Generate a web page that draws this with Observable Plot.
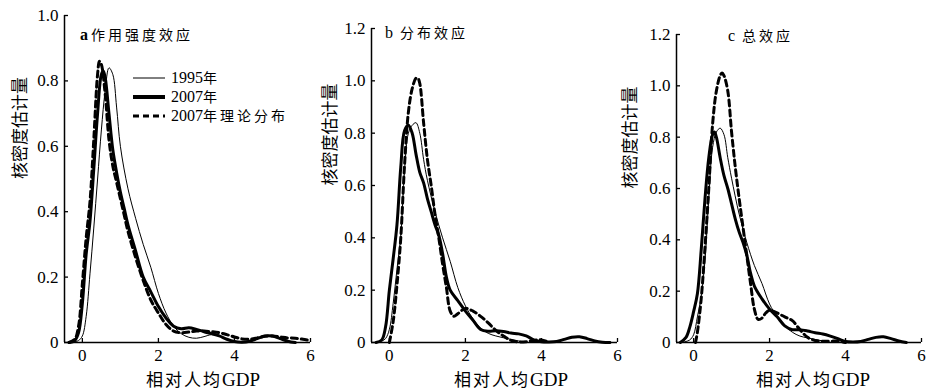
<!DOCTYPE html>
<html><head><meta charset="utf-8">
<script src="https://cdn.jsdelivr.net/npm/d3@7"></script>
<script src="https://cdn.jsdelivr.net/npm/@observablehq/plot@0.6"></script>
<style>
body{margin:0;background:#fff;-webkit-font-smoothing:antialiased;}
#wrap{position:relative;width:930px;height:390px;overflow:hidden;font-family:"Liberation Serif","Noto Sans CJK SC",serif;color:#000;}
.panel{position:absolute;top:0;}
.t{position:absolute;white-space:nowrap;line-height:1;}
.cjk{font-family:"Noto Sans CJK SC",sans-serif;}
</style></head><body><div id="wrap"></div><script>
// ---------- data ----------
const seriesNames = ["1995年", "2007年", "2007年理论分布"];
const panelTitles = [["a", "作用强度效应"], ["b", "分布效应"], ["c", "总效应"]];
const xLabelCJK = "相对人均";
const xLabelLatin = "GDP";
const yLabel = "核密度估计量";
const xTicks = [0, 2, 4, 6];
const yTicksA = [0, 0.2, 0.4, 0.6, 0.8, 1.0];
const yTicksBC = [0, 0.2, 0.4, 0.6, 0.8, 1.0, 1.2];

// panel a
const a1995_x = [-0.35,-0.2,-0.1,0,0.1,0.2,0.3,0.4,0.5,0.6,0.7,0.8,0.9,1.0,1.2,1.4,1.6,1.8,2.0,2.2,2.4,2.6,2.8,3.0,3.2,3.4,3.6,3.8,4.0,4.2];
const a1995_y = [0,0.002,0.006,0.02,0.08,0.21,0.35,0.5,0.65,0.77,0.84,0.82,0.72,0.6,0.47,0.38,0.3,0.23,0.15,0.09,0.05,0.027,0.016,0.013,0.018,0.024,0.02,0.01,0.003,0];
const a2007_x = [-0.35,-0.2,-0.1,0,0.1,0.2,0.3,0.4,0.5,0.55,0.6,0.7,0.8,0.9,1.0,1.1,1.2,1.4,1.6,1.8,2.0,2.2,2.4,2.6,2.8,3.0,3.2,3.4,3.6,3.8,4.0,4.2,4.4,4.6,4.8,5.0,5.2,5.4,5.6];
const a2007_y = [0,0.006,0.03,0.12,0.27,0.37,0.53,0.7,0.82,0.83,0.81,0.7,0.59,0.52,0.46,0.41,0.36,0.28,0.2,0.155,0.11,0.075,0.05,0.042,0.045,0.04,0.033,0.027,0.02,0.01,0.003,0.001,0.004,0.012,0.02,0.02,0.012,0.004,0];
const a2007t_x = [-0.35,-0.2,-0.1,0,0.1,0.2,0.3,0.4,0.45,0.5,0.6,0.7,0.8,0.9,1.0,1.1,1.2,1.4,1.6,1.8,2.0,2.2,2.4,2.6,2.8,3.0,3.2,3.4,3.6,3.8,4.0,4.2,4.4,4.6,4.8,5.0,5.2,5.4,5.6,5.8,6.0];
const a2007t_y = [0,0.01,0.05,0.18,0.32,0.43,0.62,0.82,0.86,0.85,0.76,0.62,0.54,0.49,0.44,0.39,0.34,0.26,0.19,0.13,0.09,0.055,0.035,0.03,0.032,0.035,0.035,0.033,0.03,0.024,0.017,0.011,0.01,0.014,0.019,0.02,0.017,0.014,0.013,0.01,0.006];

// panel b
const b1995_x = [-0.3,-0.2,-0.1,0,0.1,0.2,0.3,0.4,0.5,0.6,0.7,0.8,0.9,1.0,1.2,1.4,1.6,1.8,2.0,2.2,2.4,2.6,2.8,3.0,3.2,3.4,3.6];
const b1995_y = [0,0.005,0.015,0.05,0.15,0.28,0.41,0.66,0.8,0.83,0.84,0.8,0.7,0.62,0.5,0.4,0.31,0.21,0.14,0.09,0.055,0.035,0.025,0.018,0.012,0.006,0];
const b2007_x = [-0.35,-0.2,-0.1,0,0.1,0.2,0.3,0.4,0.5,0.6,0.7,0.8,0.9,1.0,1.1,1.2,1.3,1.4,1.5,1.6,1.8,2.0,2.2,2.4,2.6,2.8,3.0,3.2,3.4,3.6,3.8,4.0,4.2,4.4,4.6,4.8,5.0,5.2,5.4,5.6,5.8];
const b2007_y = [0,0.01,0.06,0.2,0.32,0.45,0.67,0.81,0.83,0.8,0.72,0.65,0.61,0.55,0.5,0.45,0.41,0.34,0.25,0.2,0.16,0.12,0.085,0.05,0.043,0.045,0.042,0.036,0.033,0.025,0.01,0.003,0.002,0.004,0.012,0.02,0.022,0.015,0.006,0.001,0];
const b2007t_x = [0,0.1,0.2,0.3,0.4,0.5,0.6,0.7,0.75,0.8,0.9,1.0,1.1,1.2,1.3,1.4,1.5,1.6,1.7,1.8,2.0,2.2,2.4,2.6,2.8,3.0,3.2,3.4,3.6,3.8,4.0,4.2];
const b2007t_y = [0,0.08,0.22,0.4,0.68,0.88,0.97,1.01,1.01,0.99,0.84,0.7,0.6,0.49,0.4,0.3,0.21,0.12,0.1,0.11,0.13,0.12,0.1,0.075,0.046,0.025,0.008,0.002,0.003,0.008,0.01,0];

// panel c
const c1995_x = [-0.3,-0.2,-0.1,0,0.1,0.2,0.3,0.4,0.5,0.6,0.7,0.8,0.9,1.0,1.2,1.4,1.6,1.8,2.0,2.2,2.4,2.6,2.8,3.0,3.2,3.4,3.6];
const c1995_y = [0,0.004,0.01,0.03,0.1,0.18,0.32,0.56,0.76,0.82,0.835,0.81,0.72,0.64,0.5,0.39,0.3,0.23,0.15,0.1,0.065,0.04,0.025,0.018,0.012,0.006,0];
const c2007_x = [-0.35,-0.2,-0.1,0,0.1,0.2,0.3,0.4,0.5,0.55,0.6,0.7,0.8,0.9,1.0,1.1,1.2,1.3,1.4,1.5,1.6,1.8,2.0,2.2,2.4,2.6,2.8,3.0,3.2,3.4,3.6,3.8,4.0,4.2,4.4,4.6,4.8,5.0,5.2,5.4,5.6];
const c2007_y = [0,0.02,0.06,0.12,0.19,0.36,0.56,0.72,0.81,0.82,0.8,0.72,0.65,0.6,0.54,0.48,0.43,0.39,0.34,0.27,0.22,0.17,0.13,0.1,0.065,0.05,0.05,0.045,0.038,0.033,0.025,0.015,0.004,0.002,0.004,0.012,0.02,0.022,0.015,0.006,0];
const c2007t_x = [0.05,0.1,0.2,0.3,0.4,0.5,0.6,0.7,0.75,0.8,0.9,1.0,1.1,1.2,1.3,1.4,1.5,1.6,1.7,1.8,1.9,2.0,2.2,2.4,2.6,2.8,3.0,3.2,3.4,3.6,3.8,4.0];
const c2007t_y = [0,0.04,0.17,0.37,0.6,0.85,0.98,1.04,1.05,1.04,0.98,0.82,0.68,0.56,0.45,0.34,0.23,0.13,0.09,0.095,0.115,0.125,0.115,0.1,0.085,0.05,0.02,0.008,0.005,0.005,0.006,0];

// ---------- styles per series ----------
const seriesStyle = [
  {strokeWidth: 1},
  {strokeWidth: 3},
  {strokeWidth: 3, strokeDasharray: "6,4"}
];

const panels = [
  {left: 0, width: 320, mL: 64, mR: 10, mT: 15, xDomain: [-0.47, 6.0], yDomain: [0, 1.0], yTicks: yTicksA,
   series: [[a1995_x, a1995_y], [a2007_x, a2007_y], [a2007t_x, a2007t_y]],
   titleX: 80, titleY: 35, ylabDx: -44, xlabX: 203, boldLetter: true},
  {left: 310, width: 320, mL: 61, mR: 13, mT: 28, xDomain: [-0.47, 6.0], yDomain: [0, 1.2], yTicks: yTicksBC,
   series: [[b1995_x, b1995_y], [b2007_x, b2007_y], [b2007t_x, b2007t_y]],
   titleX: 385, titleY: 33, ylabDx: -41, xlabX: 511, boldLetter: false},
  {left: 620, width: 310, mL: 56, mR: 9, mT: 34, xDomain: [-0.45, 6.0], yDomain: [0, 1.2], yTicks: yTicksBC,
   series: [[c1995_x, c1995_y], [c2007_x, c2007_y], [c2007t_x, c2007t_y]],
   titleX: 728, titleY: 36, ylabDx: -46, xlabX: 813, boldLetter: false}
];

const H = 390, mB = 48;
const wrap = document.getElementById("wrap");
const fmtY = d => d === 0 ? "0" : d3.format(".1f")(d);
const fmtX = d => String(d);

panels.forEach((p, pi) => {
  const lines = p.series.map(([xs, ys], si) =>
    Plot.line(xs.map((x, i) => ({x, y: ys[i]})), {
      x: "x", y: "y", curve: "catmull-rom", stroke: "#000",
      strokeLinejoin: "round", ...seriesStyle[si]
    }));
  const chart = Plot.plot({
    width: p.width, height: H,
    marginLeft: p.mL, marginRight: p.mR, marginTop: p.mT, marginBottom: mB,
    x: {domain: p.xDomain},
    y: {domain: p.yDomain},
    style: {fontFamily: "Liberation Serif", fontSize: "17px", color: "#000", background: "transparent", overflow: "visible"},
    marks: [
      Plot.axisY({ticks: p.yTicks, tickSize: 0, tickPadding: 6, tickFormat: fmtY, fontSize: 17, label: null}),
      Plot.axisY({ticks: p.yTicks, tickSize: 4, dx: 4, tickFormat: () => "", label: null, strokeWidth: 1.3}),
      Plot.axisX({ticks: xTicks, tickSize: 0, tickPadding: 6, tickFormat: fmtX, fontSize: 17, label: null}),
      Plot.axisX({ticks: xTicks, tickSize: 4, dy: -4, tickFormat: () => "", label: null, strokeWidth: 1.3}),
      Plot.ruleX([p.xDomain[0]], {stroke: "#000", strokeWidth: 1.5}),
      Plot.ruleY([p.yDomain[0]], {stroke: "#000", strokeWidth: 1.5}),
      Plot.text([yLabel], {text: d => d, frameAnchor: "left", rotate: -90, dx: p.ylabDx,
        fontSize: 17, fontFamily: "Noto Sans CJK SC", letterSpacing: "1px", fill: "#000"}),
      ...lines
    ]
  });
  const holder = document.createElement("div");
  holder.className = "panel";
  holder.style.left = p.left + "px";
  holder.appendChild(chart);
  wrap.appendChild(holder);

  // title
  const [letter, name] = panelTitles[pi];
  const t = document.createElement("div");
  t.className = "t";
  t.style.left = p.titleX + "px";
  t.style.top = (p.titleY - 8) + "px";
  t.innerHTML = `<span style="font-size:16px;${p.boldLetter ? "font-weight:bold;" : ""}">${letter}</span>` +
    `<span class="cjk" style="font-size:14px;letter-spacing:3px;margin-left:${p.boldLetter ? 3 : 7}px">${name}</span>`;
  wrap.appendChild(t);

  // x label
  const xl = document.createElement("div");
  xl.className = "t";
  xl.style.left = p.xlabX + "px";
  xl.style.top = "379px";
  xl.style.transform = "translate(-50%,-50%)";
  xl.innerHTML = `<span class="cjk" style="font-size:17px;letter-spacing:2px">${xLabelCJK}</span><span style="font-size:19px">${xLabelLatin}</span>`;
  wrap.appendChild(xl);
});

// legend (panel a)
const legendRows = [78, 97, 116];
seriesNames.forEach((name, i) => {
  const row = document.createElement("div");
  row.className = "t";
  row.style.left = "133px";
  row.style.top = (legendRows[i] - 8) + "px";
  row.style.display = "flex";
  row.style.alignItems = "center";
  row.style.height = "16px";
  const st = seriesStyle[i];
  const m = name.match(/^(\d+)(.*)$/);
  row.innerHTML = `<svg width="33" height="14" style="display:block"><line x1="0" x2="32" y1="7" y2="7" stroke="#000" stroke-width="${st.strokeWidth + (i === 1 ? 1 : 0)}" ${st.strokeDasharray ? `stroke-dasharray="${st.strokeDasharray}"` : ""}/></svg>` +
    `<span style="margin-left:5px;font-size:16px;line-height:16px">${m[1]}<span class="cjk" style="font-size:14px;letter-spacing:3px;line-height:14px">${m[2]}</span></span>`;
  wrap.appendChild(row);
});
</script></body></html>
